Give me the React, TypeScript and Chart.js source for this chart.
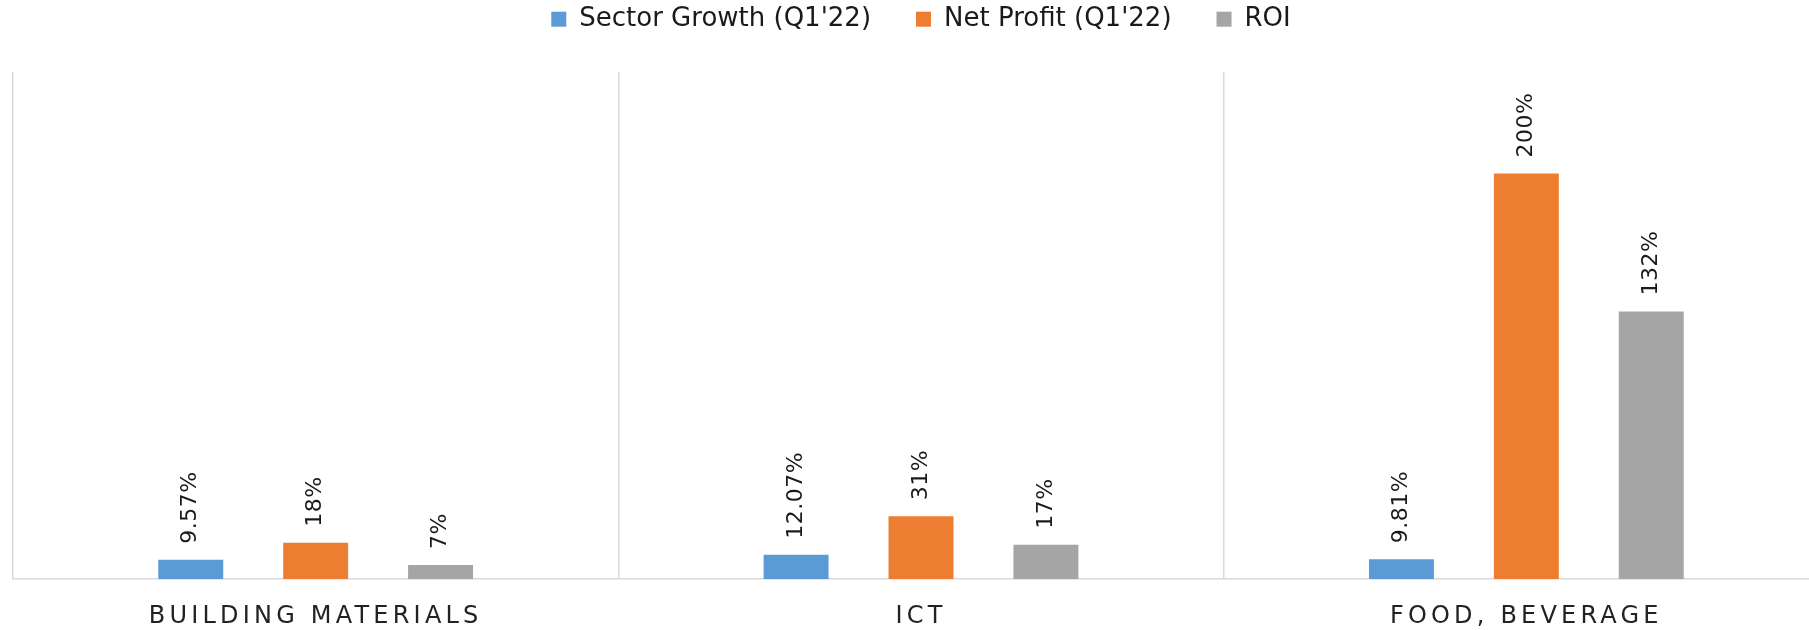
import React, { useEffect, useRef } from 'react';
import { Chart, registerables } from 'chart.js';

Chart.register(...registerables);

const categories = ['BUILDING MATERIALS', 'ICT', 'FOOD, BEVERAGE'];
const seriesNames = ["Sector Growth (Q1'22)", "Net Profit (Q1'22)", 'ROI'];
const sectorGrowth = [9.57, 12.07, 9.81];
const netProfit = [18, 31, 200];
const roi = [7, 17, 132];
const labelDecimals = [2, 0, 0];
const seriesColors = ['#5B9BD5', '#ED7D31', '#A5A5A5'];
const yMin = 0;
const yMax = 250;

const FONT = 'DejaVu Sans';
const LEGEND_EXTRA = 29.8;

const customPlugin = {
  id: 'customLook',
  beforeLayout(chart: any) {
    const legend = chart.legend;
    if (legend && !legend.__patched) {
      const origFit = legend.fit;
      legend.fit = function () {
        origFit.call(this);
        this.height += LEGEND_EXTRA;
      };
      legend.__patched = true;
    }
    chart.ctx.letterSpacing = '0px';
  },
  beforeDraw(chart: any) {
    chart.ctx.letterSpacing = '0px';
    const xs = chart.scales.x;
    if (xs && !xs.__patched) {
      const orig = xs.drawLabels;
      xs.drawLabels = function (area: any) {
        const ctx = this.ctx;
        ctx.save();
        ctx.letterSpacing = '4.2px';
        orig.call(this, area);
        ctx.restore();
      };
      xs.__patched = true;
    }
  },
  afterDatasetsDraw(chart: any) {
    const ctx = chart.ctx;
    chart.data.datasets.forEach((ds: any, di: number) => {
      const meta = chart.getDatasetMeta(di);
      if (meta.hidden) return;
      meta.data.forEach((bar: any, i: number) => {
        const v = ds.data[i];
        const text = v.toFixed(labelDecimals[di]) + '%';
        ctx.save();
        ctx.letterSpacing = '0.5px';
        ctx.font = `22px "${FONT}"`;
        ctx.fillStyle = '#1a1a1a';
        ctx.translate(bar.x, bar.y - 16);
        ctx.rotate(-Math.PI / 2);
        ctx.textAlign = 'left';
        ctx.textBaseline = 'middle';
        ctx.fillText(text, 0, 0);
        ctx.restore();
      });
    });
  },
};

export default function App() {
  const ref = useRef<HTMLCanvasElement>(null);
  useEffect(() => {
    document.body.style.margin = '0';
    const seriesValues = [sectorGrowth, netProfit, roi];
    const chart = new Chart(ref.current as HTMLCanvasElement, {
      type: 'bar',
      data: {
        labels: categories,
        datasets: seriesNames.map((name, i) => ({
          label: name,
          data: seriesValues[i],
          backgroundColor: seriesColors[i],
          borderWidth: 0,
          categoryPercentage: 0.619,
          barPercentage: 0.52,
        })),
      },
      options: {
        responsive: false,
        animation: false,
        devicePixelRatio: 1,
        layout: { padding: { left: 13, right: 1, top: -38.8, bottom: -24 } },
        plugins: {
          legend: {
            position: 'top',
            labels: {
              boxWidth: 15,
              boxHeight: 15,
              padding: 45,
              color: '#1a1a1a',
              font: { family: FONT, size: 26 },
            },
          },
          tooltip: { enabled: false },
          title: { display: false },
        },
        scales: {
          x: {
            grid: { display: true, offset: true, color: '#d9d9d9', lineWidth: 1.5, drawTicks: false },
            border: { display: true, color: '#d9d9d9', width: 1.5 },
            ticks: {
              font: { family: FONT, size: 24 },
              color: '#222222',
              padding: 23,
              maxRotation: 0,
              autoSkip: false,
            },
          },
          y: {
            display: false,
            min: yMin,
            max: yMax,
          },
        },
      } as any,
      plugins: [customPlugin],
    });
    return () => chart.destroy();
  }, []);
  return (
    <div style={{ width: 1809, height: 630, overflow: 'hidden', position: 'relative' }}>
      <canvas ref={ref} width={1830} height={630} style={{ display: 'block', width: 1830, height: 630 }} />
    </div>
  );
}
